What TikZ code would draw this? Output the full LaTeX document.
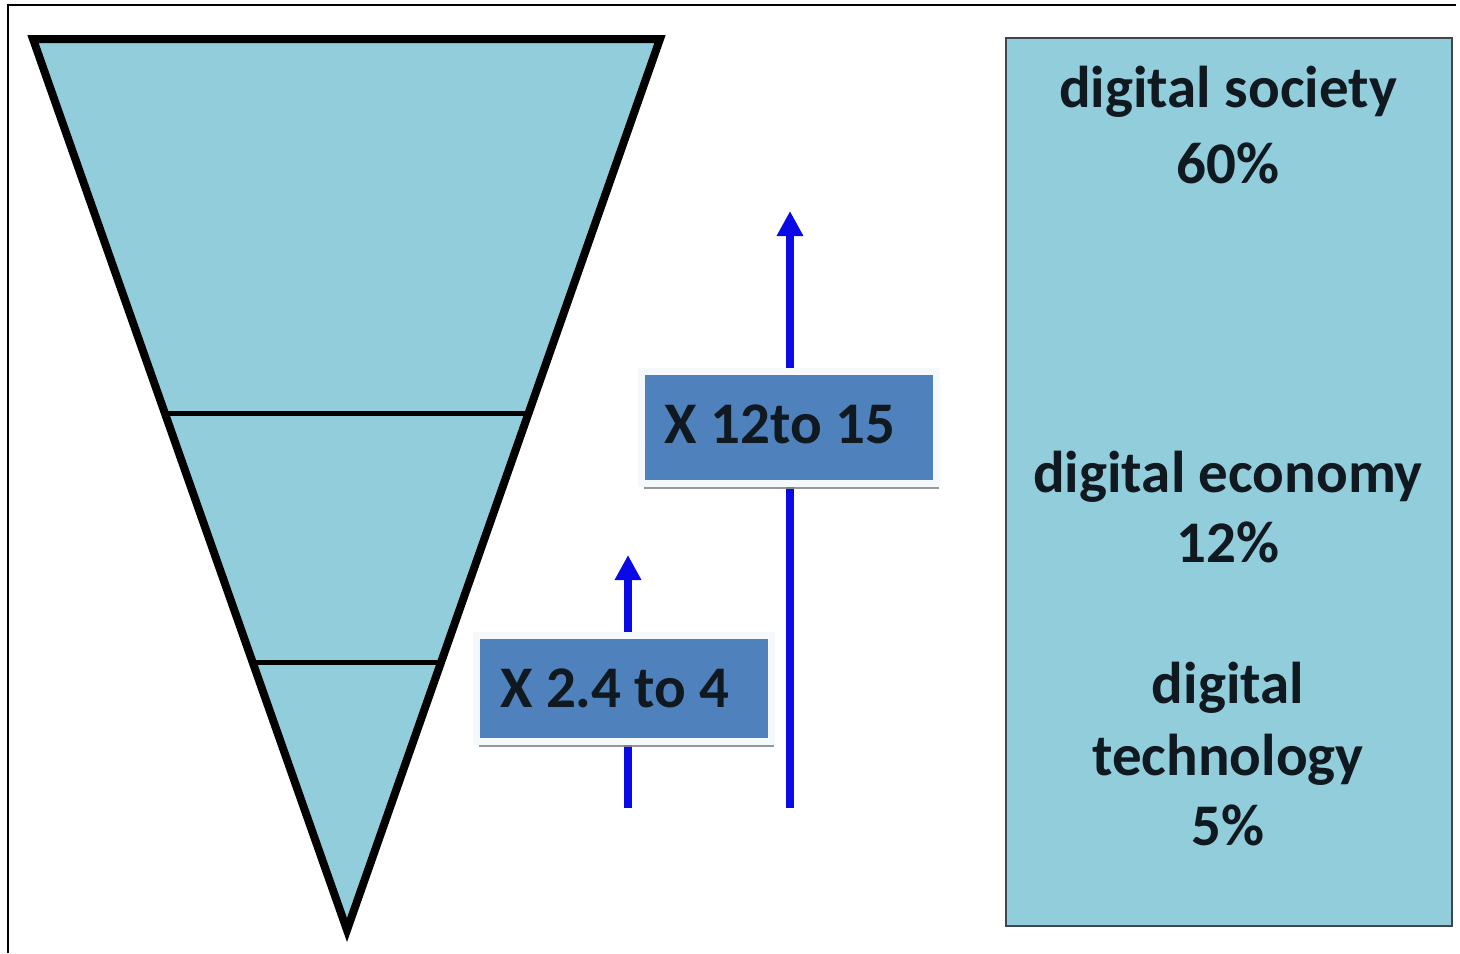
\documentclass[tikz,border=0pt]{standalone}
\usepackage{fontspec}
\setsansfont{Carlito}
\usepackage{xcolor}
\definecolor{funnelblue}{HTML}{92CDDC}
\definecolor{boxblue}{HTML}{4F81BD}
\definecolor{arrowblue}{HTML}{0A0AE6}
\definecolor{textdark}{HTML}{101820}
\usetikzlibrary{arrows.meta,positioning,calc,shadows}

\tikzset{
  factorbox/.style={fill=boxblue, draw=white!95!boxblue, line width=3.5pt,
    minimum width=147.5pt, minimum height=56pt, inner sep=0pt,
    font=\sffamily\bfseries\fontsize{29.5}{35}\selectfont, text=textdark,
    drop shadow={shadow xshift=1.3pt, shadow yshift=-2.5pt, fill=black!45, opacity=0.9}},
  sharetext/.style={font=\sffamily\bfseries\fontsize{29.5}{35}\selectfont,
    text=textdark, anchor=base, inner sep=0pt},
  growarrow/.style={arrowblue, line width=4pt, -{Triangle[width=12.5pt,length=12.5pt]}}
}

\begin{document}
\begin{tikzpicture}[x=0.5pt,y=-0.5pt]
  \useasboundingbox (0,0) rectangle (1460,953);
  % Frame
  \draw[line width=1pt] (8,953) -- (8,5) -- (1456,5);
  % Funnel
  \coordinate (tl) at (33,39);
  \coordinate (tr) at (660,39);
  \coordinate (tip) at (347,930);
  \filldraw[fill=funnelblue, line width=4pt, line join=miter] (tl) -- (tr) -- (tip) -- cycle;
  % Layer lines
  \draw[line width=2.5pt] ($(tl)!0.420!(tip)$) -- ($(tr)!0.420!(tip)$);
  \draw[line width=2.5pt] ($(tl)!0.700!(tip)$) -- ($(tr)!0.700!(tip)$);
  % Arrows
  \coordinate (lowbase) at (628,808);
  \coordinate (lowtip) at (628,555);
  \coordinate (highbase) at (790,808);
  \coordinate (hightip) at (790,211);
  \draw[growarrow] (lowbase) -- (lowtip);
  \draw[growarrow] (highbase) -- (hightip);
  % Factor boxes
  \node[factorbox, minimum height=53pt] (lowfactor) at (624,688.5) {X 2.4 to 4\hspace*{9pt}};
  \node[factorbox] (highfactor) at (789,427.5) {\raisebox{3pt}{X 12to 15}\hspace*{9pt}};
  % Share box
  \node[fill=funnelblue, draw=textdark!80, line width=1pt, minimum width=223pt,
    minimum height=444pt, inner sep=0pt] (sharebox) at (1229,482) {};
  \node[sharetext] (society) at (1228,107) {digital society};
  \node[sharetext] (societypct) at (1228,183) {60\%};
  \node[sharetext] (economy) at (1228,492) {digital economy};
  \node[sharetext] (economypct) at (1228,562) {12\%};
  \node[sharetext] (techA) at (1228,703) {digital};
  \node[sharetext] (techB) at (1228,775) {technology};
  \node[sharetext] (techpct) at (1228,845) {5\%};
\end{tikzpicture}
\end{document}
